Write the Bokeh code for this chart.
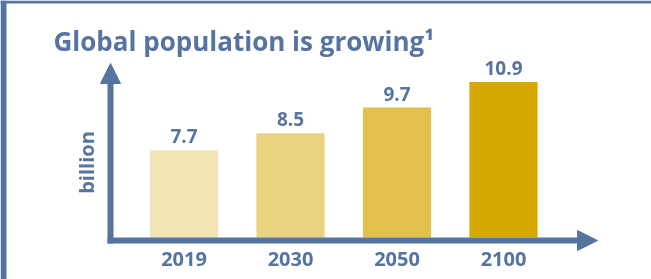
from bokeh.plotting import figure
from bokeh.models import Range1d, Label, Span, Arrow, NormalHead, ColumnDataSource
from bokeh.core.properties import value
from bokeh.embed import file_html
from bokeh.resources import INLINE

# ---- data ----
years = ["2019", "2030", "2050", "2100"]
population = [7.7, 8.5, 9.7, 10.9]
value_labels = ["7.7", "8.5", "9.7", "10.9"]
bar_colors = ["#F2E4B5", "#E9D380", "#E1C04D", "#D6A800"]
title_text = "Global population is growing\u00b9"
y_label = "billion"

# ---- layout constants ----
W, H = 651, 279
BLUE = "#5574A0"
FONT = "Open Sans"
PX_PER_X = 106.5      # pixels per category step
X0_PX = 183.5         # pixel centre of first category
AXIS_BASE = 3.6       # value at the x axis (bars start here)
PX_PER_Y = 21.3       # pixels per billion
AXIS_PX = 237         # pixel row of top of x-axis line

xs = -X0_PX / PX_PER_X
xe = xs + W / PX_PER_X
ys = AXIS_BASE - (H - AXIS_PX) / PX_PER_Y
ye = ys + H / PX_PER_Y


def dx(px):
    return xs + px / PX_PER_X


def dy(py):
    return ys + (H - py) / PX_PER_Y


p = figure(width=W, height=H, output_backend="svg", toolbar_location=None,
           x_range=Range1d(xs, xe), y_range=Range1d(ys, ye),
           x_axis_type=None, y_axis_type=None, min_border=0,
           outline_line_color=None, background_fill_color="white",
           border_fill_color="white")
p.grid.visible = False
p.styles = {"position": "fixed", "left": "0px", "top": "0px"}

idx = list(range(len(years)))
src = ColumnDataSource(dict(x=idx, top=population, color=bar_colors,
                            label=value_labels, year=years,
                            base=[AXIS_BASE] * len(years)))

p.vbar(x="x", top="top", bottom="base", width=0.64, fill_color="color",
       line_color=None, source=src)

p.text(x="x", y="top", text="label", source=src, text_align="center",
       text_baseline="alphabetic", y_offset=-14, text_font=value(FONT),
       text_font_style="bold", text_font_size="19px", text_color=BLUE)

p.text(x="x", y="base", text="year", source=src, text_align="center",
       text_baseline="alphabetic", y_offset=21, text_font=value(FONT),
       text_font_style="bold", text_font_size="20px", text_color=BLUE)

# axes as arrows
p.add_layout(Arrow(x_start=dx(110), y_start=dy(243), x_end=dx(110), y_end=dy(63),
                   line_width=6, line_color=BLUE,
                   end=NormalHead(size=20, fill_color=BLUE, line_color=BLUE, line_width=1)))
p.add_layout(Arrow(x_start=dx(107), y_start=dy(240), x_end=dx(597), y_end=dy(240),
                   line_width=6, line_color=BLUE,
                   end=NormalHead(size=20, fill_color=BLUE, line_color=BLUE, line_width=1)))

# frame borders
p.add_layout(Span(location=dx(3), dimension="height", line_width=6, line_color=BLUE))
p.add_layout(Span(location=dy(1.5), dimension="width", line_width=3, line_color=BLUE))

p.add_layout(Label(x=dx(53), y=dy(40), text=title_text, text_baseline="alphabetic",
                   text_font=FONT, text_font_style="bold", text_font_size="26px",
                   text_color=BLUE))
p.add_layout(Label(x=dx(86), y=dy(162), text=y_label, angle=1.5708,
                   text_align="center", text_baseline="middle",
                   text_font=FONT, text_font_style="bold", text_font_size="20px",
                   text_color=BLUE))

open("out.html", "w").write(file_html(p, INLINE))
